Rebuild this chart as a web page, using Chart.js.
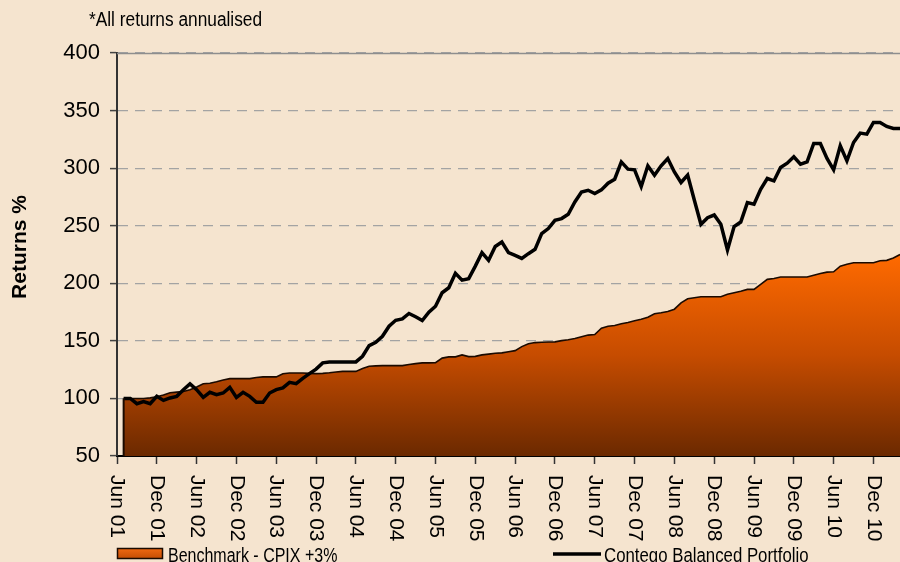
<!DOCTYPE html>
<html>
<head>
<meta charset="utf-8">
<script src="https://cdn.jsdelivr.net/npm/chart.js@4.4.1/dist/chart.umd.min.js"></script>
<style>
  html, body { margin: 0; padding: 0; background: #F5E4CF; overflow: hidden; }
  canvas { display: block; }
</style>
</head>
<body>
<canvas id="c" width="900" height="562"></canvas>
<script>
// ---- Data ----
const monthNames = ['Jan','Feb','Mar','Apr','May','Jun','Jul','Aug','Sep','Oct','Nov','Dec'];
// Monthly categories from Jun 01 to Apr 11
const categories = [];
for (let i = 0; i < 119; i++) {
  const mi = (5 + i) % 12;
  const yr = 1 + Math.floor((5 + i) / 12);
  categories.push(monthNames[mi] + ' ' + String(yr).padStart(2, '0'));
}

const tickLabels = ['Jun 01','Dec 01','Jun 02','Dec 02','Jun 03','Dec 03','Jun 04','Dec 04',
  'Jun 05','Dec 05','Jun 06','Dec 06','Jun 07','Dec 07','Jun 08','Dec 08','Jun 09','Dec 09','Jun 10','Dec 10'];

const portfolio = [null,
  100, 100, 95.4, 97.2, 95.4, 101.8, 98.3, 100.4, 101.8, 107.6,
  112.6, 107.6, 100.9, 105.3, 103.3, 104.7, 109.6, 100.9, 105.3, 101.8,
  96.6, 96.6, 104.7, 107.6, 109.1, 114, 112.8, 117.5, 121.5, 125.5,
  130.9, 131.7, 131.7, 131.7, 131.7, 131.7, 136.6, 145.9, 148.8, 154,
  162.7, 167.9, 169.1, 173.8, 170.9, 167.7, 174.9, 180.1, 191.8, 196.1,
  208.6, 202.7, 204, 214.9, 226.6, 219.9, 232, 235.8, 226.6, 224.2,
  221.6, 225.7, 229.5, 243.1, 247.5, 254.7, 256.2, 259.9, 270.6, 279.3,
  280.8, 277.9, 281.1, 286.9, 290.4, 305.4, 299.1, 298.5, 284, 302,
  293.9, 302, 308.4, 296.7, 287.5, 293.9, 272.4, 251.2, 257, 259.3,
  251.2, 228.9, 249.2, 253.2, 270.1, 268.6, 281.7, 291, 288.9, 300.6,
  304.3, 309.8, 303.4, 305.4, 321.4, 321.4, 308.4, 298.5, 319.4, 306.3,
  322.3, 330.4, 329.5, 339.7, 339.7, 336.2, 334.5, 334.5];

const benchmark = [null,
  100, 100, 100, 100, 100.5, 101.5, 103, 105, 105.5, 106,
  107.5, 110, 112.8, 113.2, 114.5, 116, 117.2, 117.2, 117.2, 117.2,
  118.2, 118.7, 118.7, 118.7, 121.5, 122.1, 122.1, 122.1, 121.8, 121.5,
  121.8, 122.3, 123, 123.5, 123.5, 123.5, 126, 127.9, 128.3, 128.5,
  128.5, 128.5, 128.5, 129.5, 130.2, 130.9, 130.9, 131, 135, 136.1,
  136.1, 137.8, 136.3, 136.5, 137.8, 138.5, 139.2, 139.6, 140.5, 141.5,
  145, 147.5, 148.5, 148.8, 149, 149.1, 150.2, 151, 152, 153.5,
  155, 155.5, 161, 162.7, 163.3, 164.8, 166, 167.5, 168.7, 170.5,
  173.5, 174.4, 175.5, 177.5, 183, 186.6, 187.5, 188.3, 188.3, 188.3,
  188.3, 190.5, 191.8, 193, 194.7, 194.7, 199, 203.4, 204.2, 205.4,
  205.4, 205.4, 205.4, 205.4, 207, 208.5, 209.7, 210, 214.9, 216.5,
  217.9, 217.9, 217.9, 217.9, 219.6, 219.9, 222, 225];

const seriesNames = ['Benchmark - CPIX +3%', 'Contego Balanced Portfolio'];
const noteText = '*All returns annualised';
const axisTitle = 'Returns %';

// ---- Styling helpers ----
function areaGradient(context) {
  const chart = context.chart;
  const { ctx, chartArea, scales } = chart;
  if (!chartArea || !scales.y) return '#C04A00';
  const yTop = scales.y.getPixelForValue(Math.max(...benchmark.filter(v => v !== null)));
  const yBot = chartArea.bottom;
  const g = ctx.createLinearGradient(0, yTop, 0, yBot);
  g.addColorStop(0, '#FF6A00');
  g.addColorStop(0.5, '#C64C00');
  g.addColorStop(1, '#6B2900');
  return g;
}

const decor = {
  id: 'decor',
  beforeDraw(chart) {
    const c = chart.ctx;
    c.save();
    c.fillStyle = '#F5E4CF';
    c.fillRect(0, 0, chart.width, chart.height);
    c.restore();
  },
  beforeDatasetsDraw(chart) {
    const c = chart.ctx, a = chart.chartArea, y = chart.scales.y;
    const yy = Math.round(y.getPixelForValue(y.max)) + 0.5;
    c.save();
    c.strokeStyle = '#8E8E8E';
    c.lineWidth = 1.5;
    c.beginPath(); c.moveTo(a.left, yy); c.lineTo(a.right, yy); c.stroke();
    c.restore();
  },
  afterDatasetsDraw(chart) {
    // left edge of the benchmark area
    const c = chart.ctx, x = chart.scales.x, y = chart.scales.y;
    const px = x.getPixelForValue(1);
    c.save();
    c.strokeStyle = '#1A0A00';
    c.lineWidth = 2;
    c.beginPath();
    c.moveTo(px, y.getPixelForValue(benchmark[1]));
    c.lineTo(px, chart.chartArea.bottom);
    c.stroke();
    c.restore();
  },
  afterDraw(chart) {
    const c = chart.ctx, x = chart.scales.x;
    c.save();
    // y axis title
    c.fillStyle = '#000';
    c.font = 'bold 21px "Liberation Sans", Arial, sans-serif';
    c.textAlign = 'center';
    c.textBaseline = 'middle';
    c.save();
    c.translate(20, 247);
    c.rotate(-Math.PI / 2);
    c.fillText(axisTitle, 0, 0);
    c.restore();
    // rotated x tick labels (reading top to bottom)
    c.font = '21px "Liberation Sans", Arial, sans-serif';
    c.textAlign = 'left';
    c.textBaseline = 'middle';
    tickLabels.forEach((lab, k) => {
      const px = x.getPixelForValue(k * 6);
      c.save();
      c.translate(px, 475);
      c.rotate(Math.PI / 2);
      c.fillText(lab, 0, 0);
      c.restore();
    });
    // note
    c.textBaseline = 'alphabetic';
    c.font = '20px "Liberation Sans", Arial, sans-serif';
    c.save();
    c.translate(89, 26);
    c.scale(0.865, 1);
    c.fillText(noteText, 0, 0);
    c.restore();
    // legend: benchmark box
    const lg = c.createLinearGradient(0, 548, 0, 559);
    lg.addColorStop(0, '#F26A12');
    lg.addColorStop(1, '#C24C04');
    c.fillStyle = lg;
    c.fillRect(117.5, 548.5, 45, 10);
    c.strokeStyle = '#1A0A00';
    c.lineWidth = 1.5;
    c.strokeRect(117.5, 548.5, 45, 10);
    c.fillStyle = '#000';
    c.save();
    c.translate(168, 562);
    c.scale(0.8, 1);
    c.fillText(seriesNames[0], 0, 0);
    c.restore();
    // legend: portfolio line
    c.strokeStyle = '#000';
    c.lineWidth = 3.5;
    c.beginPath(); c.moveTo(553, 554); c.lineTo(601, 554); c.stroke();
    c.save();
    c.translate(604, 562);
    c.scale(0.84, 1);
    c.fillText(seriesNames[1], 0, 0);
    c.restore();
    c.restore();
  }
};

new Chart(document.getElementById('c'), {
  type: 'line',
  data: {
    labels: categories,
    datasets: [
      {
        label: seriesNames[1],
        data: portfolio,
        borderColor: '#000000',
        borderWidth: 3.5,
        pointRadius: 0,
        fill: false,
        tension: 0,
        borderJoinStyle: 'miter'
      },
      {
        label: seriesNames[0],
        data: benchmark,
        borderColor: '#1A0A00',
        borderWidth: 1.6,
        pointRadius: 0,
        fill: 'start',
        backgroundColor: areaGradient,
        tension: 0
      }
    ]
  },
  options: {
    responsive: false,
    animation: false,
    layout: { padding: { top: 53, right: 0, bottom: 0, left: 0 } },
    plugins: {
      legend: { display: false },
      tooltip: { enabled: false },
      title: { display: false }
    },
    scales: {
      x: {
        type: 'category',
        offset: false,
        afterFit(scale) { scale.height = 106; },
        ticks: { display: false, autoSkip: false },
        grid: {
          drawOnChartArea: false,
          drawTicks: true,
          tickLength: 8,
          tickWidth: 1.5,
          tickColor: (ctx) => (ctx.index % 6 === 0 ? '#333333' : 'rgba(0,0,0,0)'),
          color: 'rgba(0,0,0,0)'
        },
        border: { display: true, color: '#000000', width: 2 }
      },
      y: {
        min: 50,
        max: 400,
        afterFit(scale) { scale.width = 117; },
        ticks: {
          stepSize: 50,
          color: '#000000',
          padding: 10,
          font: { family: '"Liberation Sans", Arial, sans-serif', size: 22 }
        },
        grid: {
          color: '#A3A3A3',
          lineWidth: 1.2,
          drawTicks: true,
          tickLength: 7,
          tickColor: '#444444',
          tickWidth: 1.5,
          tickBorderDash: []
        },
        border: { display: true, color: '#333333', width: 2, dash: [10, 7] },
        title: { display: false, text: axisTitle }
      }
    }
  },
  plugins: [decor]
});
</script>
</body>
</html>
